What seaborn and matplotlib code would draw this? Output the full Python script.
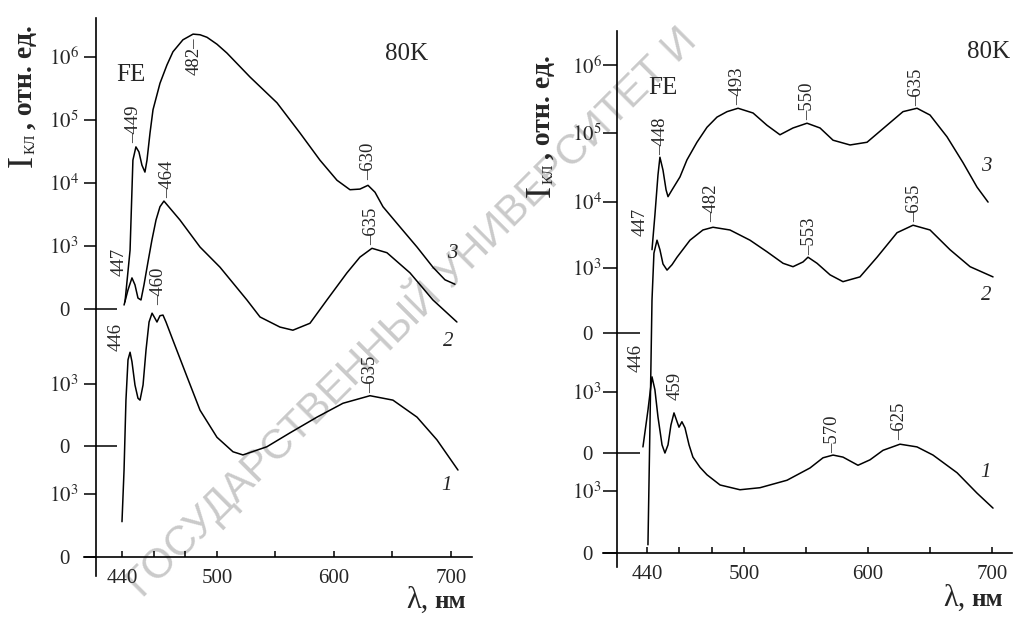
import numpy as np
import pandas as pd
import matplotlib
matplotlib.use("Agg")
import matplotlib.pyplot as plt
import seaborn as sns

# ---------------- data (wavelength, nm ; vertical position in stacked log units) ----------------
# left panel
L1_wl = [440.0, 441.3, 442.5, 443.8, 445.1, 446.3, 448.2, 450.1, 451.4, 453.3, 455.2, 457.1, 459.0,
         460.8, 462.1, 464.0, 465.9, 467.8, 472.2, 481.1, 489.3, 500.0, 513.7, 522.2, 542.7, 562.4,
         585.5, 607.7, 630.8, 650.4, 671.0, 688.0, 706.0]
L1_y = [0.56, 1.38, 2.49, 3.13, 3.25, 3.10, 2.73, 2.52, 2.49, 2.73, 3.29, 3.73, 3.87,
        3.79, 3.73, 3.83, 3.84, 3.73, 3.44, 2.86, 2.33, 1.90, 1.67, 1.62, 1.75, 1.97,
        2.22, 2.44, 2.56, 2.49, 2.22, 1.86, 1.38]
L2_wl = [441.3, 443.8, 446.3, 448.2, 450.1, 452.0, 453.9, 456.4, 458.9, 461.5, 464.0, 466.5, 476.6,
         489.3, 502.6, 525.6, 536.8, 553.8, 564.9, 579.5, 594.0, 611.1, 622.2, 632.5, 645.3, 665.0,
         684.6, 705.1]
L2_y = [4.00, 4.24, 4.43, 4.32, 4.11, 4.08, 4.32, 4.68, 5.03, 5.35, 5.56, 5.65, 5.35,
        4.92, 4.60, 4.08, 3.81, 3.65, 3.60, 3.71, 4.08, 4.51, 4.76, 4.90, 4.83, 4.51,
        4.08, 3.73]
L3_wl = [441.9, 445.1, 446.9, 448.8, 450.7, 452.6, 454.5, 455.8, 457.7, 459.6, 464.0, 468.4, 472.2,
         478.5, 484.9, 489.3, 493.7, 500.0, 508.5, 528.2, 551.3, 571.0, 588.0, 602.6, 613.7, 622.2,
         629.1, 635.1, 641.9, 656.4, 671.0, 684.6, 694.9, 703.4]
L3_y = [4.05, 4.87, 6.30, 6.51, 6.43, 6.22, 6.11, 6.30, 6.73, 7.10, 7.52, 7.81, 8.02,
        8.21, 8.30, 8.29, 8.25, 8.14, 8.00, 7.62, 7.21, 6.73, 6.30, 5.98, 5.83, 5.84,
        5.90, 5.79, 5.56, 5.24, 4.92, 4.60, 4.40, 4.33]

# right panel
R1_wl = [437.5, 440.6, 443.1, 444.9, 446.8, 449.3, 451.1, 453.0, 454.8, 456.7, 458.6, 459.8, 461.6,
         463.5, 466.0, 468.4, 472.8, 477.1, 485.2, 497.5, 512.9, 534.7, 553.2, 563.7, 571.8, 579.8,
         591.9, 601.6, 612.1, 625.8, 639.5, 652.4, 671.8, 687.9, 700.8]
R1_y = [1.56, 2.10, 2.59, 2.40, 2.00, 1.59, 1.47, 1.59, 1.88, 2.06, 1.93, 1.85, 1.93,
        1.84, 1.59, 1.41, 1.26, 1.15, 1.00, 0.93, 0.96, 1.07, 1.25, 1.40, 1.44, 1.41,
        1.29, 1.37, 1.51, 1.60, 1.56, 1.44, 1.18, 0.88, 0.66]
R2_wl = [440.6, 441.9, 443.1, 444.3, 446.2, 448.0, 449.9, 452.4, 455.5, 458.6, 466.6, 474.6, 480.8,
         491.3, 504.8, 518.5, 531.5, 539.5, 547.6, 551.6, 558.9, 569.4, 579.8, 593.5, 607.3, 623.4,
         636.3, 650.0, 666.1, 682.3, 700.8]
R2_y = [0.12, 1.96, 3.72, 4.41, 4.60, 4.46, 4.25, 4.16, 4.24, 4.35, 4.60, 4.75, 4.79,
        4.75, 4.60, 4.43, 4.26, 4.21, 4.28, 4.35, 4.26, 4.09, 3.99, 4.06, 4.35, 4.71,
        4.82, 4.75, 4.46, 4.21, 4.06]
R3_wl = [443.1, 444.9, 446.8, 448.0, 449.9, 451.8, 453.0, 455.5, 460.4, 464.7, 470.9, 477.1, 483.3,
         489.5, 496.3, 507.3, 518.5, 529.0, 539.5, 550.8, 561.3, 571.8, 585.5, 599.2, 615.3, 628.2,
         639.5, 650.0, 663.7, 676.6, 687.9, 696.8]
R3_y = [4.46, 4.97, 5.56, 5.82, 5.63, 5.34, 5.24, 5.34, 5.53, 5.78, 6.04, 6.26, 6.41,
        6.49, 6.54, 6.47, 6.29, 6.15, 6.25, 6.32, 6.25, 6.07, 6.00, 6.04, 6.29, 6.49,
        6.54, 6.44, 6.12, 5.74, 5.38, 5.16]

# peak marks: (curve, wavelength of the mark, label)
L_peaks = [(3, 448.8, "449"), (3, 484.9, "482"), (3, 629.1, "630"),
           (2, 466.5, "464"), (2, 632.5, "635"), (2, 446.3, "447"),
           (1, 459.0, "460"), (1, 445.1, "446"), (1, 630.8, "635")]
R_peaks = [(3, 448.0, "448"), (3, 496.3, "493"), (3, 550.8, "550"), (3, 639.5, "635"),
           (2, 446.2, "447"), (2, 480.8, "482"), (2, 551.6, "553"), (2, 636.3, "635"),
           (1, 443.1, "446"), (1, 456.7, "459"), (1, 571.8, "570"), (1, 625.8, "625")]

y_tick_labels = ["0", "$10^3$", "0", "$10^3$", "0", "$10^3$", "$10^4$", "$10^5$", "$10^6$"]
x_major = [440, 500, 600, 700]
x_minor = [460, 480, 550, 650]

# ---------------- layout ----------------
W, H = 1017, 619
sns.set_style("ticks")
plt.rcParams["font.family"] = ["Liberation Serif", "DejaVu Serif"]
plt.rcParams["mathtext.fontset"] = "stix"

fig = plt.figure(figsize=(W / 100, H / 100), dpi=100)


def px_rect(x0, y0, x1, y1):
    return [x0 / W, 1 - y1 / H, (x1 - x0) / W, (y1 - y0) / H]


def ftext(px, py, s, **kw):
    return fig.text(px / W, 1 - py / H, s, **kw)


def make_scale(r):
    def fwd(x):
        x = np.asarray(x, dtype=float)
        return np.where(x < 500, (x - 500) * r, x - 500)

    def inv(y):
        y = np.asarray(y, dtype=float)
        return np.where(y < 0, y / r + 500, y + 500)
    return fwd, inv


panels = [
    dict(rect=px_rect(84, 18, 472, 576), r=1.353, xlim=(416.0, 718.0), ylim=(-0.302, 8.556),
         yspine=423.6,
         yticks=[0, 1.0, 1.762, 2.746, 3.937, 4.937, 5.937, 6.937, 7.941],
         zeros=[1.762, 3.937], tlen=8.6, zlen=15.0, ypad=14.4,
         curves={1: (L1_wl, L1_y), 2: (L2_wl, L2_y), 3: (L3_wl, L3_y)},
         peaks=L_peaks,
         peak_layout=[(-2, 4, "above"), (1, -3, "below"), (1, 5, "above"),
                      (4, 3, "above"), (0, 3, "above"), (-13, 16, "side"),
                      (7, 8, "above"), (-14, 15, "side"), (1, 3, "above")],
         numbers={3: (-3, 31), 2: (-9, -19), 1: (-11, -15)}),
    dict(rect=px_rect(603, 31, 1012, 567), r=1.304, xlim=(412.8, 716.1), ylim=(-0.206, 7.676),
         yspine=421.5,
         yticks=[0, 0.912, 1.471, 2.368, 3.235, 4.191, 5.162, 6.176, 7.176],
         zeros=[1.471, 3.235], tlen=10.0, zlen=16.5, ypad=11.5,
         curves={1: (R1_wl, R1_y), 2: (R2_wl, R2_y), 3: (R3_wl, R3_y)},
         peaks=R_peaks,
         peak_layout=[(1, 2, "above"), (0, 3, "above"), (1, 3, "above"), (0, 2, "above"),
                      (-17, 18, "side"), (-1, 5, "above"), (2, 2, "above"), (2, 3, "above"),
                      (-16, 19, "side"), (1, 13, "plain"), (0, 2, "above"), (0, 4, "above")],
         numbers={3: (-2, 36), 2: (-7, -19), 1: (-8, 36)}),
]

# watermark (drawn behind the axes)
ftext(410, 310, "ГОСУДАРСТВЕННЫЙ УНИВЕРСИТЕТ И", rotation=45, ha="center", va="center",
      fontsize=30, color="#cacaca", family="Liberation Sans", zorder=-1)

for p in panels:
    ax = fig.add_axes(p["rect"])
    ax.set_facecolor("none")
    ax.set_xscale("function", functions=make_scale(p["r"]))

    frames = []
    for cid, (wl, yy) in p["curves"].items():
        frames.append(pd.DataFrame({"wl": wl, "y": yy, "curve": cid}))
    df = pd.concat(frames, ignore_index=True)
    sns.lineplot(data=df, x="wl", y="y", units="curve", estimator=None, sort=False,
                 color="black", lw=1.1, ax=ax, legend=False)

    ax.set_xlim(*p["xlim"])
    ax.set_ylim(*p["ylim"])
    ax.set_xlabel("")
    ax.set_ylabel("")

    for s in ["top", "right"]:
        ax.spines[s].set_visible(False)
    ax.spines["left"].set_position(("data", p["yspine"]))
    ax.spines["bottom"].set_position(("data", 0))
    for s in ["left", "bottom"]:
        ax.spines[s].set_linewidth(1.2)
        ax.spines[s].set_color("black")

    ax.set_xticks(x_major)
    ax.set_xticklabels([str(v) for v in x_major])
    ax.set_xticks(x_minor, minor=True)
    ax.tick_params(axis="x", which="both", direction="in", length=4, width=1.1,
                   color="black", pad=9, labelsize=15)

    ax.set_yticks(p["yticks"])
    ax.set_yticklabels(y_tick_labels)
    ax.set_yticks(p["zeros"], minor=True)
    ax.yaxis.remove_overlapping_locs = False
    ax.tick_params(axis="y", which="major", direction="out", length=p["tlen"], width=1.1,
                   color="black", pad=p["ypad"], labelsize=15)
    ax.tick_params(axis="y", which="minor", direction="in", length=p["zlen"], width=1.1,
                   color="black")
    for lab in ax.get_yticklabels():
        lab.set_ha("center")

    # peak labels
    for (cid, wl0, lab), (dx, dy, kind) in zip(p["peaks"], p["peak_layout"]):
        wl, yy = p["curves"][cid]
        y0 = float(np.interp(wl0, wl, yy))
        if kind == "above":
            txt, va = "\u2013" + lab, "bottom"
        elif kind == "below":
            txt, va = lab + "\u2013", "top"
        elif kind == "plain":
            txt, va = lab, "bottom"
        else:
            txt, va = lab, "center"
        ax.annotate(txt, xy=(wl0, y0), xytext=(dx, dy), textcoords="offset pixels",
                    rotation=90, ha="center", va=va, fontsize=13.5)

    # curve numbers
    for cid, (dx, dy) in p["numbers"].items():
        wl, yy = p["curves"][cid]
        ax.annotate(str(cid), xy=(wl[-1], yy[-1]), xytext=(dx, dy), textcoords="offset pixels",
                    ha="center", va="center", fontsize=15, style="italic")

# texts
for px_, py_ in [(407, 54), (989, 52)]:
    ftext(px_, py_, "80K", fontsize=18, ha="center", va="center")
for px_, py_ in [(131, 75), (663, 88)]:
    ftext(px_, py_, "FE", fontsize=18, ha="center", va="center")

# y labels
for bx, by in [(32, 167), (550, 197)]:
    kw = dict(rotation=90, rotation_mode="anchor", ha="left", va="baseline")
    ftext(bx, by, "I", fontsize=26, **kw)
    ftext(bx + 3, by - 13, "КЛ", fontsize=11, **kw)
    ftext(bx, by - 38, ", отн. ед.", fontsize=20, fontweight="bold", **kw)

# x labels
for lx, ly in [(406, 608), (943, 606)]:
    ftext(lx, ly, "λ,", fontsize=22, ha="left", va="baseline")
    ftext(lx + 28, ly, "нм", fontsize=18, fontweight="bold", ha="left", va="baseline")

fig.savefig("out.png", dpi=100)
